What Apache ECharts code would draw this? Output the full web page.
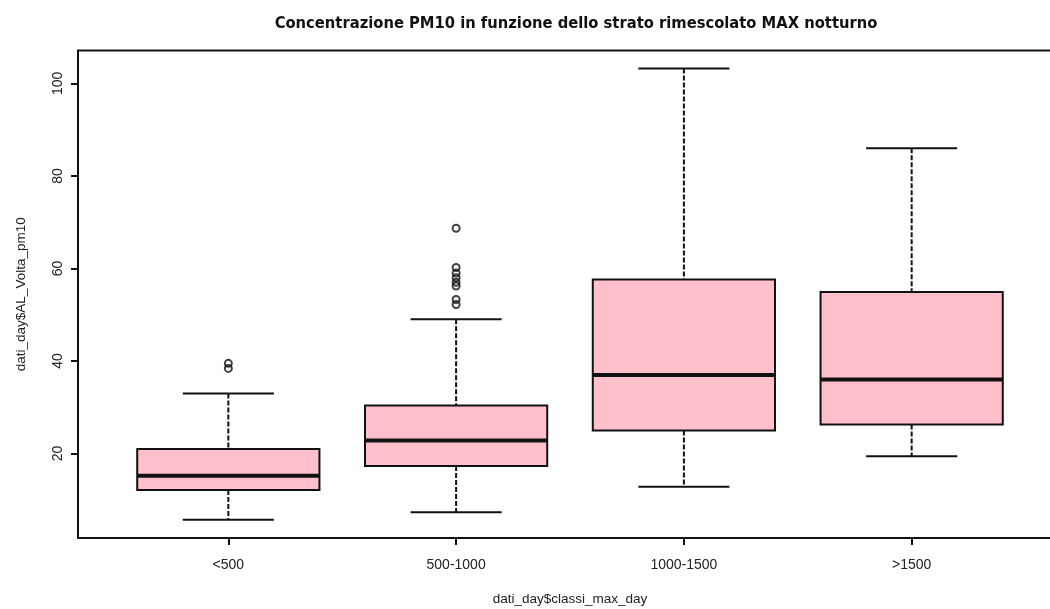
<!DOCTYPE html>
<html>
<head>
<meta charset="utf-8">
<script src="https://cdn.jsdelivr.net/npm/echarts@6/dist/echarts.min.js"></script>
<style>
  html, body { margin: 0; padding: 0; background: #fff; }
  #chart { width: 1050px; height: 609px; }
</style>
</head>
<body>
<div id="chart"></div>
<script>
// classi di altezza dello strato rimescolato
var categories = ['<500', '500-1000', '1000-1500', '>1500'];
// statistiche dei box: baffi, quartili e mediana
var lowWhisker = [5.7, 7.3, 12.8, 19.4];
var q1 = [12.1, 17.3, 25.0, 26.3];
var median = [15.2, 22.8, 37.0, 36.0];
var q3 = [21.0, 30.4, 57.6, 54.9];
var highWhisker = [33.0, 49.0, 103.2, 86.0];
// valori anomali
var outliers1 = [39.5, 38.4];
var outliers2 = [68.7, 60.2, 59.0, 58.0, 57.0, 56.2, 53.3, 52.2];
var yTicks = [20, 40, 60, 80, 100];

var boxData = categories.map(function (c, i) {
  return [i + 1, lowWhisker[i], q1[i], median[i], q3[i], highWhisker[i]];
});
var outlierData = outliers1.map(function (v) { return [1, v]; })
  .concat(outliers2.map(function (v) { return [2, v]; }));

var font = "'Liberation Sans', Arial, sans-serif";

function renderBox(params, api) {
  var x = api.value(0);
  var pLow = api.coord([x, api.value(1)]);
  var pQ1 = api.coord([x, api.value(2)]);
  var pMed = api.coord([x, api.value(3)]);
  var pQ3 = api.coord([x, api.value(4)]);
  var pHigh = api.coord([x, api.value(5)]);
  var w = api.size([0.8, 0])[0];
  var cx = pLow[0];
  var dash = { stroke: '#111', lineWidth: 2, lineDash: [5, 2] };
  var solid = { stroke: '#111', lineWidth: 2 };
  return {
    type: 'group',
    children: [
      { type: 'line', shape: { x1: cx, y1: pHigh[1], x2: cx, y2: pQ3[1] }, style: dash },
      { type: 'line', shape: { x1: cx, y1: pQ1[1], x2: cx, y2: pLow[1] }, style: dash },
      { type: 'line', shape: { x1: cx - w / 4, y1: pHigh[1], x2: cx + w / 4, y2: pHigh[1] }, style: solid },
      { type: 'line', shape: { x1: cx - w / 4, y1: pLow[1], x2: cx + w / 4, y2: pLow[1] }, style: solid },
      { type: 'rect', shape: { x: cx - w / 2, y: pQ3[1], width: w, height: pQ1[1] - pQ3[1] },
        style: { fill: '#FFC0CB', stroke: '#111', lineWidth: 2 } },
      { type: 'line', shape: { x1: cx - w / 2, y1: pMed[1], x2: cx + w / 2, y2: pMed[1] },
        style: { stroke: '#111', lineWidth: 4 } }
    ]
  };
}

var myChart = echarts.init(document.getElementById('chart'));
var option = {
  animation: false,
  backgroundColor: '#fff',
  title: {
    text: 'Concentrazione PM10 in funzione dello strato rimescolato MAX notturno',
    left: 571,
    top: 11,
    textAlign: 'center',
    textStyle: {
      fontFamily: "'DejaVu Sans Condensed', sans-serif",
      fontSize: 16.4,
      fontWeight: 'bold',
      color: '#111'
    }
  },
  grid: {
    left: 78,
    top: 50.5,
    width: 984,
    height: 487.5,
    outerBoundsMode: 'none',
    show: true,
    borderColor: '#111',
    borderWidth: 2,
    backgroundColor: 'transparent'
  },
  xAxis: {
    type: 'value',
    min: 0.34,
    max: 4.66,
    name: 'dati_day$classi_max_day',
    nameLocation: 'middle',
    nameGap: 54,
    nameTextStyle: { fontFamily: font, fontSize: 13.5, color: '#222' },
    axisLine: { show: false },
    splitLine: { show: false },
    axisTick: { show: true, length: 7, customValues: [1, 2, 3, 4], lineStyle: { color: '#111', width: 2 } },
    axisLabel: {
      customValues: [1, 2, 3, 4],
      margin: 20,
      fontFamily: font,
      fontSize: 14,
      color: '#222',
      formatter: function (v) { return categories[Math.round(v) - 1]; }
    }
  },
  yAxis: {
    type: 'value',
    min: 1.75,
    max: 107.1,
    name: 'dati_day$AL_Volta_pm10',
    nameLocation: 'middle',
    nameRotate: 90,
    nameGap: 50,
    nameTextStyle: { fontFamily: font, fontSize: 13.5, color: '#222' },
    axisLine: { show: false },
    splitLine: { show: false },
    axisTick: { show: true, length: 7, customValues: yTicks, lineStyle: { color: '#111', width: 2 } },
    axisLabel: {
      customValues: yTicks,
      rotate: 90,
      margin: 13,
      fontFamily: font,
      fontSize: 14,
      color: '#222'
    }
  },
  series: [
    {
      type: 'custom',
      renderItem: renderBox,
      data: boxData,
      clip: false,
      z: 2
    },
    {
      type: 'scatter',
      data: outlierData,
      symbol: 'circle',
      symbolSize: 7,
      itemStyle: { color: 'rgba(0,0,0,0)', borderColor: '#111', borderWidth: 2 },
      z: 3
    }
  ]
};
myChart.setOption(option);
</script>
</body>
</html>
